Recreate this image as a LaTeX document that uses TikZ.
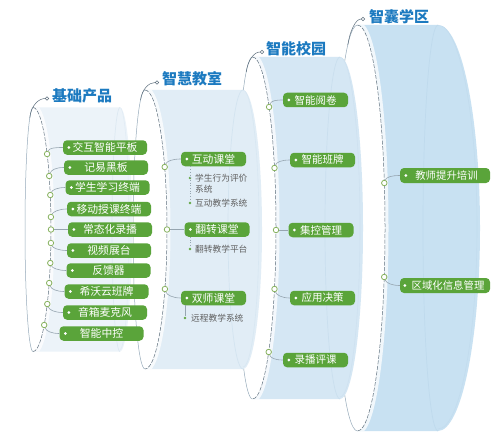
\documentclass[tikz,border=0pt]{standalone}
\usepackage{fontspec}
\setmainfont{Noto Sans CJK SC}
\usetikzlibrary{calc}
\definecolor{boxg}{RGB}{90,164,58}
\definecolor{ringg}{RGB}{135,178,95}
\definecolor{ttlblue}{RGB}{28,122,192}
\definecolor{cfa}{RGB}{236,243,249}
\definecolor{cfb}{RGB}{225,237,246}
\definecolor{cfc}{RGB}{213,231,244}
\definecolor{cfd}{RGB}{200,225,242}
\definecolor{rimc}{RGB}{150,185,212}
\definecolor{leftc}{RGB}{150,170,186}
\definecolor{dashc}{RGB}{95,112,126}
\definecolor{linec}{RGB}{150,165,176}
\definecolor{subt}{RGB}{95,95,95}
\definecolor{subdot}{RGB}{100,168,70}

\newcommand\drawcyl[9]{%
  \fill[#9] (#1,#2-#3) -- (#6,#2-#3) arc[start angle=90,end angle=-90,x radius=#8pt,y radius=#3pt] -- (#1,#2+#3) arc[start angle=-90,end angle=90,x radius=#5pt,y radius=#3pt] -- cycle;
  \begin{scope}
    \clip (#1,#2-#3) -- (#6,#2-#3) arc[start angle=90,end angle=-90,x radius=#8pt,y radius=#3pt] -- (#1,#2+#3) arc[start angle=-90,end angle=90,x radius=#5pt,y radius=#3pt] -- cycle;
    \draw[white,line width=7pt,opacity=0.75] (#1,#2-#3) arc[start angle=90,end angle=-90,x radius=#5pt,y radius=#3pt];
    \draw[#9!88!rimc,line width=0.6pt] (#6,#2-#3) arc[start angle=90,end angle=-90,x radius=#8pt-3pt,y radius=#3pt-1pt];
  \end{scope}
  \draw[#9!82!rimc,line width=0.7pt] (#6,#2-#3) arc[start angle=90,end angle=270,x radius=#7pt,y radius=#3pt];
  \fill[white] (#1,#2-#3) arc[start angle=90,end angle=270,x radius=#4pt,y radius=#3pt] arc[start angle=-90,end angle=90,x radius=#5pt,y radius=#3pt] -- cycle;
  \draw[leftc,line width=0.5pt] (#1,#2-#3) arc[start angle=90,end angle=270,x radius=#4pt,y radius=#3pt];
  \draw[dashc,line width=0.5pt,dash pattern=on 4pt off 1.5pt] (#1,#2-#3) arc[start angle=90,end angle=-90,x radius=#5pt,y radius=#3pt];
}

\begin{document}
\begin{tikzpicture}[x=1pt,y=-1pt,
  gbox/.style={fill=boxg,rounded corners=4pt,text=white,inner sep=0pt,minimum height=14.5pt,font=\fontsize{10.8}{12}\selectfont},
  gwa/.style={gbox,minimum width=84pt},
  gwb/.style={gbox,minimum width=65pt},
  gwc/.style={gbox,minimum width=65pt,font=\fontsize{10.5}{12}\selectfont},
  gwd/.style={gbox,minimum width=90pt,minimum height=15pt,font=\fontsize{10.4}{12}\selectfont},
  ring/.style={circle,draw=ringg,fill=white,line width=0.8pt,inner sep=0pt,minimum size=5.5pt},
  tdot/.style={circle,draw=dashc,fill=white,line width=0.5pt,inner sep=0pt,minimum size=3.6pt},
  ttl/.style={anchor=west,inner sep=0pt,text=ttlblue,font=\fontsize{15}{17}\selectfont\bfseries},
  tline/.style={draw=dashc,line width=0.5pt},
  conn/.style={draw=linec,line width=0.6pt},
  sdot/.style={circle,fill=subdot,inner sep=0pt,minimum size=2.8pt},
  stxt/.style={anchor=west,inner sep=0pt,text=subt,font=\fontsize{8.7}{10}\selectfont},
  wdot/.style={fill=white}
]
\useasboundingbox (0,0) rectangle (500,441);
\fill[white] (0,0) rectangle (500,441);

% cylinders, back to front
\drawcyl{357.5}{228}{203}{22.5}{27.5}{438}{15}{42}{cfd}
\drawcyl{252.5}{228}{171}{15.5}{23.5}{340}{15}{23}{cfc}
\drawcyl{145}{229.5}{139.5}{12}{22}{243}{15}{19}{cfb}
\drawcyl{33}{229.5}{122}{8}{18}{120}{8}{12}{cfa}

% titles
\node[tdot] (t1c) at (47,98.5) {};
\node[ttl] (t1) at (52,95.5) {基础产品};
\draw[tline] (t1c.west) .. controls (39,98.5) and (31,105) .. (29.8,118);
\node[tdot] (t2c) at (157,82.5) {};
\node[ttl] (t2) at (162,79) {智慧教室};
\draw[tline] (t2c.west) .. controls (149,82.5) and (142,89) .. (140.5,100);
\node[tdot] (t3c) at (262,52) {};
\node[ttl] (t3) at (266,48.5) {智能校园};
\draw[tline] (t3c.west) .. controls (254,52) and (248,60) .. (246.2,72);
\node[tdot] (t4c) at (363,19) {};
\node[ttl] (t4) at (369,16.5) {智囊学区};
\draw[tline] (t4c.west) .. controls (356,19) and (350,30) .. (347.8,45);

% cylinder 1 items
\node[gwa] (b11) at (105,147.5) {交互智能平板};
\node[gwa] (b12) at (106,167.5) {记易黑板};
\node[gwa] (b13) at (107.5,187.5) {学生学习终端};
\node[gwa] (b14) at (109,209) {移动授课终端};
\node[gwa] (b15) at (110,229.5) {常态化录播};
\node[gwa] (b16) at (109,250.5) {视频展台};
\node[gwa] (b17) at (108.5,270.5) {反馈器};
\node[gwa] (b18) at (106.5,291.5) {希沃云班牌};
\node[gwa] (b19) at (105,312.5) {音箱麦克风};
\node[gwa] (b110) at (101.5,333.5) {智能中控};
\node[ring] (c11) at (47.1,154) {};
\node[ring] (c12) at (49.2,176) {};
\node[ring] (c13) at (50.3,195) {};
\node[ring] (c14) at (50.9,217) {};
\node[ring] (c15) at (51,229.5) {};
\node[ring] (c16) at (50.9,243) {};
\node[ring] (c17) at (50.3,263) {};
\node[ring] (c18) at (49.2,283) {};
\node[ring] (c19) at (47.3,304) {};
\node[ring] (c110) at (44.2,325) {};
\draw[conn] (c11) .. controls +(2,-6) and +(-8,0) .. (b11.west);
\draw[conn] (c12) .. controls +(2,-6) and +(-8,0) .. (b12.west);
\draw[conn] (c13) .. controls +(2,-5) and +(-8,0) .. (b13.west);
\draw[conn] (c14) .. controls +(2,-5) and +(-8,0) .. (b14.west);
\draw[conn] (c15) -- (b15.west);
\draw[conn] (c16) .. controls +(2,5) and +(-8,0) .. (b16.west);
\draw[conn] (c17) .. controls +(2,5) and +(-8,0) .. (b17.west);
\draw[conn] (c18) .. controls +(2,6) and +(-8,0) .. (b18.west);
\draw[conn] (c19) .. controls +(2,6) and +(-8,0) .. (b19.west);
\draw[conn] (c110) .. controls +(2,6) and +(-8,0) .. (b110.west);

% cylinder 2 items
\node[gwb] (b21) at (213.5,159) {互动课堂};
\node[gwb] (b22) at (217,229.5) {翻转课堂};
\node[gwb] (b23) at (213.5,298) {双师课堂};
\node[ring] (c21) at (164.7,167) {};
\node[ring] (c22) at (167,229.5) {};
\node[ring] (c23) at (164.9,289) {};
\draw[conn] (c21) .. controls +(2,-6) and +(-8,0) .. (b21.west);
\draw[conn] (c22) -- (b22.west);
\draw[conn] (c23) .. controls +(2,6) and +(-8,0) .. (b23.west);
\node[sdot] (d1) at (190,178) {};
\node[sdot] (d2) at (190,203) {};
\node[sdot] (d3) at (190,249) {};
\node[sdot] (d4) at (185,318) {};
\draw[linec,line width=0.7pt,dotted] (d1 |- b21.south) -- (d2);
\draw[linec,line width=0.7pt,dotted] (d3 |- b22.south) -- (d3);
\draw[linec,line width=0.6pt] (d4 |- b23.south) -- (d4);
\node[stxt] (s1) at (195,178) {学生行为评价};
\node[stxt] (s1b) at (195,189.5) {系统};
\node[stxt] (s2) at (195,203) {互动教学系统};
\node[stxt] (s3) at (195,249) {翻转教学平台};
\node[stxt] (s4) at (191,318) {远程教学系统};

% cylinder 3 items
\node[gwc] (b31) at (315.5,100) {智能阅卷};
\node[gwc] (b32) at (322.5,160) {智能班牌};
\node[gwc] (b33) at (321,230) {集控管理};
\node[gwc] (b34) at (322.5,298) {应用决策};
\node[gwc] (b35) at (315.5,360) {录播评课};
\node[ring] (c31) at (269.1,107) {};
\node[ring] (c32) at (274.5,168) {};
\node[ring] (c33) at (276,230) {};
\node[ring] (c34) at (274.5,289) {};
\node[ring] (c35) at (268.7,352) {};
\draw[conn] (c31) .. controls +(2,-6) and +(-8,0) .. (b31.west);
\draw[conn] (c32) .. controls +(2,-6) and +(-8,0) .. (b32.west);
\draw[conn] (c33) -- (b33.west);
\draw[conn] (c34) .. controls +(2,6) and +(-8,0) .. (b34.west);
\draw[conn] (c35) .. controls +(2,6) and +(-8,0) .. (b35.west);

% cylinder 4 items
\node[gwd] (b41) at (445,175.5) {\hspace*{3pt}教师提升培训};
\node[gwd] (b42) at (445,285.5) {\hspace*{6pt}区域化信息管理};
\node[ring] (c41) at (384.3,183) {};
\node[ring] (c42) at (384.2,277) {};
\draw[conn] (c41) .. controls +(2,-6) and +(-8,0) .. (b41.west);
\draw[conn] (c42) .. controls +(2,6) and +(-8,0) .. (b42.west);

% white bullets inside boxes
\foreach \b/\d in {b11/6,b12/6,b13/6,b14/6,b15/6,b16/6,b17/6,b18/6,b19/6,b110/6,b21/6,b22/6,b23/6,b31/6,b32/6,b33/6,b34/6,b35/6,b41/6,b42/5}
  \fill[wdot] ($(\b.west)+(\d,0)$) circle[radius=1.5pt];
\end{tikzpicture}
\end{document}
